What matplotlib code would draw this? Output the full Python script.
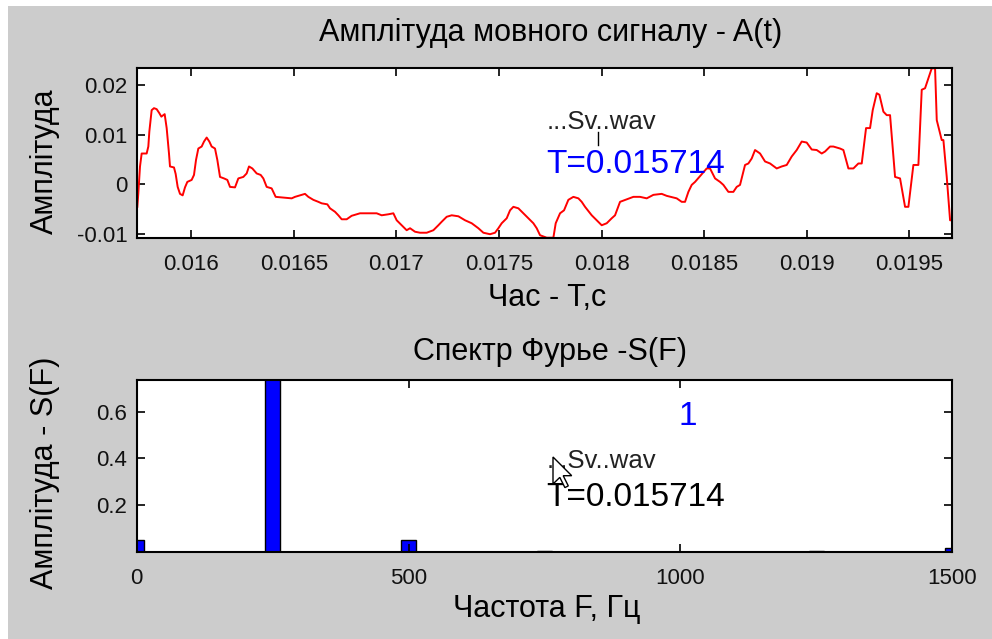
import numpy as np
import matplotlib.pyplot as plt
from matplotlib.patches import Rectangle, Polygon
from matplotlib.lines import Line2D

plt.rcParams['font.family'] = ['Liberation Sans', 'DejaVu Sans']

t = np.array([
    0.0157372, 0.0157420, 0.0157502, 0.0157583, 0.0157826, 0.0157908, 0.0157957,
    0.0158070, 0.0158184, 0.0158314, 0.0158444, 0.0158542, 0.0158704, 0.0158802,
    0.0158915, 0.0158964, 0.0159159, 0.0159240, 0.0159338, 0.0159452, 0.0159582,
    0.0159695, 0.0159809, 0.0160020, 0.0160134, 0.0160232, 0.0160345, 0.0160508,
    0.0160622, 0.0160752, 0.0160882, 0.0160995, 0.0161158, 0.0161272, 0.0161402,
    0.0161597, 0.0161759, 0.0161889, 0.0162133, 0.0162295, 0.0162539, 0.0162701,
    0.0162815, 0.0162978, 0.0163189, 0.0163384, 0.0163514, 0.0163677, 0.0163920,
    0.0164115, 0.0164895, 0.0165058, 0.0165545, 0.0165708, 0.0165952, 0.0166195,
    0.0166358, 0.0166634, 0.0166764, 0.0167008, 0.0167170, 0.0167333, 0.0167577,
    0.0167820, 0.0168227, 0.0169039, 0.0169283, 0.0169608, 0.0169852, 0.0170014,
    0.0170258, 0.0170501, 0.0170665, 0.0170908, 0.0171152, 0.0171477, 0.0171802,
    0.0172046, 0.0172208, 0.0172452, 0.0172696, 0.0173021, 0.0173346, 0.0173671,
    0.0173996, 0.0174240, 0.0174565, 0.0174808, 0.0174971, 0.0175133, 0.0175377,
    0.0175540, 0.0175702, 0.0175946, 0.0176190, 0.0176433, 0.0176677, 0.0176840,
    0.0177002, 0.0177327, 0.0177490, 0.0177652, 0.0177766, 0.0177977, 0.0178172,
    0.0178383, 0.0178627, 0.0178871, 0.0179033, 0.0179196, 0.0179521, 0.0179765,
    0.0180008, 0.0180252, 0.0180496, 0.0180658, 0.0180902, 0.0181552, 0.0181877,
    0.0182202, 0.0182527, 0.0182933, 0.0183177, 0.0183664, 0.0183908, 0.0184070,
    0.0184233, 0.0184395, 0.0184558, 0.0185126, 0.0185289, 0.0185533, 0.0185776,
    0.0185939, 0.0186183, 0.0186426, 0.0186589, 0.0186751, 0.0186995, 0.0187158,
    0.0187320, 0.0187483, 0.0187727, 0.0187970, 0.0188214, 0.0188539, 0.0188783,
    0.0189026, 0.0189270, 0.0189514, 0.0189758, 0.0190001, 0.0190245, 0.0190489,
    0.0190733, 0.0190895, 0.0191139, 0.0191301, 0.0191626, 0.0191789, 0.0192033,
    0.0192276, 0.0192520, 0.0192683, 0.0192894, 0.0193089, 0.0193219, 0.0193414,
    0.0193544, 0.0193739, 0.0193901, 0.0194064, 0.0194308, 0.0194551, 0.0194795,
    0.0194958, 0.0195201, 0.0195445, 0.0195608, 0.0195770, 0.0195933, 0.0196095,
    0.0196258, 0.0196340, 0.0196583, 0.0196664, 0.0196827, 0.0196990, 0.0197070,
])
a = np.array([
    -0.0045, -0.0018, 0.0036, 0.0062, 0.0062, 0.0076, 0.0106,
    0.0149, 0.0153, 0.0151, 0.0143, 0.0136, 0.0141, 0.0113,
    0.0062, 0.0036, 0.0034, 0.0021, -0.0005, -0.0019, -0.0022,
    -0.0006, 0.0005, 0.0009, 0.0019, 0.0049, 0.0072, 0.0076,
    0.0086, 0.0094, 0.0086, 0.0076, 0.0072, 0.0049, 0.0015,
    0.0012, 0.0009, -0.0005, -0.0006, 0.0012, 0.0015, 0.0022,
    0.0036, 0.0032, 0.0022, 0.0019, 0.0012, -0.0005, -0.0008,
    -0.0025, -0.0028, -0.0025, -0.0019, -0.0025, -0.0031, -0.0035,
    -0.0038, -0.0040, -0.0048, -0.0055, -0.0062, -0.0070, -0.0070,
    -0.0063, -0.0058, -0.0058, -0.0062, -0.0060, -0.0058, -0.0072,
    -0.0082, -0.0092, -0.0088, -0.0095, -0.0097, -0.0097, -0.0092,
    -0.0082, -0.0075, -0.0065, -0.0062, -0.0064, -0.0072, -0.0078,
    -0.0088, -0.0097, -0.0100, -0.0097, -0.0088, -0.0078, -0.0068,
    -0.0052, -0.0045, -0.0048, -0.0058, -0.0068, -0.0078, -0.0088,
    -0.0102, -0.0107, -0.0107, -0.0107, -0.0078, -0.0058, -0.0052,
    -0.0031, -0.0025, -0.0028, -0.0035, -0.0045, -0.0062, -0.0072,
    -0.0082, -0.0078, -0.0068, -0.0062, -0.0035, -0.0025, -0.0025,
    -0.0028, -0.0021, -0.0019, -0.0023, -0.0028, -0.0035, -0.0035,
    -0.0015, -0.0001, 0.0005, 0.0032, 0.0032, 0.0012, 0.0005,
    -0.0001, -0.0015, -0.0015, -0.0005, -0.0001, 0.0039, 0.0042,
    0.0052, 0.0069, 0.0062, 0.0046, 0.0042, 0.0032, 0.0036,
    0.0039, 0.0056, 0.0069, 0.0086, 0.0084, 0.0070, 0.0069,
    0.0062, 0.0066, 0.0076, 0.0076, 0.0072, 0.0069, 0.0032,
    0.0032, 0.0042, 0.0042, 0.0113, 0.0113, 0.0149, 0.0183,
    0.0180, 0.0146, 0.0139, 0.0139, 0.0015, 0.0012, -0.0045,
    -0.0045, 0.0039, 0.0039, 0.0190, 0.0193, 0.0213, 0.0233,
    0.0233, 0.0129, 0.0089, 0.0089, 0.0015, -0.0072, -0.0072,
])

# Fourier spectrum S(F)
freq = [0, 250, 500, 750, 1250, 1500]
spec = [0.050, 0.780, 0.050, 0.004, 0.004, 0.015]

t_ticks = [0.016, 0.0165, 0.017, 0.0175, 0.018, 0.0185, 0.019, 0.0195]
t_labels = ['0.016', '0.0165', '0.017', '0.0175', '0.018', '0.0185', '0.019', '0.0195']
a_ticks = [-0.01, 0, 0.01, 0.02]
a_labels = ['-0.01', '0', '0.01', '0.02']
f_ticks = [0, 500, 1000, 1500]
s_ticks = [0.2, 0.4, 0.6]
s_labels = ['0.2', '0.4', '0.6']

file_name = '...Sv..wav'
t_start = 'T=0.015714'

bg = '#cccccc'
fig = plt.figure(figsize=(9.92, 6.39), dpi=100, facecolor=bg)
# thin white strip along the top and left edge
fig.patches.append(Rectangle((0, 1 - 6 / 639), 1, 6 / 639, transform=fig.transFigure,
                             facecolor='white', edgecolor='none'))
fig.patches.append(Rectangle((0, 0), 8 / 992, 1, transform=fig.transFigure,
                             facecolor='white', edgecolor='none'))

ax1 = fig.add_axes([0.1384, 0.628, 0.821, 0.2651])
ax2 = fig.add_axes([0.1378, 0.1366, 0.8222, 0.2687])


def style_axes(ax):
    for s in ax.spines.values():
        s.set_linewidth(1.5)
    ax.tick_params(direction='in', length=5.5, width=1.2, top=True, right=True,
                   labelsize=16, colors='black', labelcolor='#111111')
    ax.tick_params(axis='y', pad=7)
    ax.tick_params(axis='x', pad=12)


# top: waveform
ax1.plot(t, a, color='red', lw=1.4)
ax1.set_xlim(0.015737, 0.019707)
ax1.set_ylim(-0.0107, 0.0233)
ax1.set_xticks(t_ticks, t_labels)
ax1.set_yticks(a_ticks, a_labels)
style_axes(ax1)
ax1.text(0.507, 1.21, 'Амплітуда мовного сигналу - A(t)', transform=ax1.transAxes,
         ha='center', va='center', fontsize=22)
ax1.set_xlabel('Час - T,c', fontsize=22)
ax1.xaxis.set_label_coords(0.503, -0.27)
ax1.set_ylabel('Амплітуда', fontsize=22)
ax1.yaxis.set_label_coords(-0.095, 0.45)
ax1.text(0.5027, 0.642, file_name, transform=ax1.transAxes, fontsize=18.5,
         va='baseline', color='#222222')
ax1.text(0.502, 0.380, t_start, transform=ax1.transAxes, fontsize=24,
         va='baseline', color='#0000ff')

# bottom: spectrum
ax2.bar(freq, spec, width=27.6, color='#0000ff', edgecolor='black', lw=1)
ax2.set_xlim(0, 1500)
ax2.set_ylim(0, 0.736)
ax2.set_xticks(f_ticks, [str(f) for f in f_ticks])
ax2.set_yticks(s_ticks, s_labels)
style_axes(ax2)
ax2.text(0.507, 1.163, 'Спектр Фурье -S(F)', transform=ax2.transAxes,
         ha='center', va='center', fontsize=22)
ax2.set_xlabel('Частота F, Гц', fontsize=22)
ax2.xaxis.set_label_coords(0.503, -0.245)
ax2.set_ylabel('Амплітуда - S(F)', fontsize=22)
ax2.yaxis.set_label_coords(-0.094, 0.46)
ax2.text(0.676, 0.738, '1', transform=ax2.transAxes, fontsize=24,
         ha='center', va='baseline', color='#0000ff')
ax2.text(0.5027, 0.486, file_name, transform=ax2.transAxes, fontsize=18.5,
         va='baseline', color='#222222')
ax2.text(0.5027, 0.266, t_start, transform=ax2.transAxes, fontsize=24,
         va='baseline', color='black')

# text cursor in the top panel and mouse pointer over the bottom one
fig.add_artist(Line2D([598 / 992, 598 / 992], [1 - 131.5 / 639, 1 - 145 / 639],
                      transform=fig.transFigure, color='black', lw=1))
arrow = np.array([(0, 0), (0, 27), (6.8, 20.4), (11.9, 30.6), (15.3, 28.9),
                  (10.2, 18.7), (18.7, 18.7)])
px = 553 + arrow[:, 0]
py = 457 + arrow[:, 1]
fig.add_artist(Polygon(np.column_stack([px / 992, 1 - py / 639]), closed=True,
                       transform=fig.transFigure, facecolor='white',
                       edgecolor='black', lw=1, zorder=10))

fig.savefig('out.png', dpi=100, facecolor=bg)
